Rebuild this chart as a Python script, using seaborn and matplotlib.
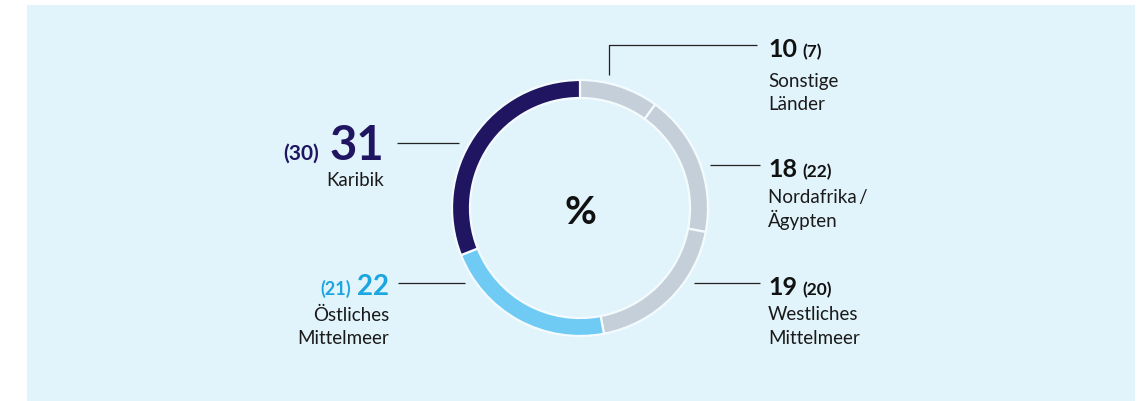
import matplotlib.pyplot as plt
import seaborn as sns

# Anteile in % (Vorjahr in Klammern), im Uhrzeigersinn ab 12 Uhr
regions = ['Sonstige\nLänder', 'Nordafrika\u2009/\nÄgypten', 'Westliches\nMittelmeer',
           'Östliches\nMittelmeer', 'Karibik']
shares = [10, 18, 19, 22, 31]
shares_prev = [7, 22, 20, 21, 30]
ring_colors = ['#c5cfd9', '#c5cfd9', '#c5cfd9', '#6fcbf4', '#1f1560']
number_colors = ['#111111', '#111111', '#111111', '#1ba6e0', '#1f1560']

sns.set_theme(style='white')
plt.rcParams['font.family'] = ['Lato', 'DejaVu Sans']

W, H = 1145, 401
BG = '#e1f3fb'
fig = plt.figure(figsize=(W / 100, H / 100), dpi=100)
ax = fig.add_axes([0, 0, 1, 1])


def Y(y):
    # Pixel von oben -> Datenkoordinate
    return H - y


ax.add_patch(plt.Rectangle((27, 0), 1108, H - 5, color=BG, zorder=0, lw=0))

ax.pie(shares, colors=ring_colors, startangle=90, counterclock=False,
       radius=128, center=(580, Y(208)),
       wedgeprops=dict(width=18, edgecolor='#f4fbfe', linewidth=1.6))
ax.set_xlim(0, W)
ax.set_ylim(0, H)
ax.axis('off')

ax.text(580, Y(212), '%', ha='center', va='center', fontsize=28,
        fontweight='bold', color='#111111')

# Layout der Beschriftungen: (x, Baseline Zahl, Baseline Text, Ausrichtung)
label_layout = [(768, 57, 87, 'left'), (768, 177, 203, 'left'),
                (768, 295, 320, 'left'), (389, 295, 321, 'right'),
                (384, 160, 186, 'right')]
big_sizes = [18, 18, 18, 20, 34]
small_sizes = [12.5, 12.5, 12.5, 13, 15]
line_step = 23.5
leaders = [[(609, 75), (609, 45), (757, 45)],
           [(710, 165), (760, 165)],
           [(694, 283), (760, 283)],
           [(465, 283), (398, 283)],
           [(459, 143), (397, 143)]]

for line in leaders:
    xs = [p[0] for p in line]
    ys = [Y(p[1]) for p in line]
    ax.plot(xs, ys, color='#222222', lw=0.9, solid_capstyle='butt')

renderer = fig.canvas.get_renderer()
for i, name in enumerate(regions):
    x, yb, yt, ha = label_layout[i]
    big = ax.text(x, Y(yb), str(shares[i]), ha=ha, va='baseline',
                  fontsize=big_sizes[i], fontweight='bold', color=number_colors[i])
    bb = big.get_window_extent(renderer)
    gap = 0.3 * big_sizes[i]
    if ha == 'left':
        ax.text(bb.x1 + gap, Y(yb), f'({shares_prev[i]})', ha='left', va='baseline',
                fontsize=small_sizes[i], fontweight='bold', color=number_colors[i])
    else:
        ax.text(bb.x0 - gap, Y(yb), f'({shares_prev[i]})', ha='right', va='baseline',
                fontsize=small_sizes[i], fontweight='bold', color=number_colors[i])
    for k, part in enumerate(name.split('\n')):
        ax.text(x, Y(yt + k * line_step), part, ha=ha, va='baseline',
                fontsize=13.5, color='#1a1a1a')

fig.savefig('out.png', dpi=100, facecolor='white')
